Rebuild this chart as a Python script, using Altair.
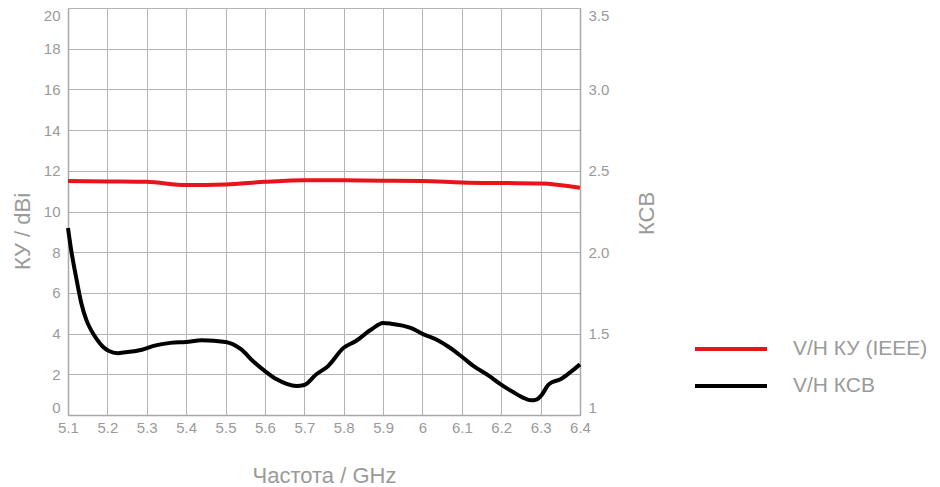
import altair as alt
import pandas as pd

# Gain (КУ, dBi) — left axis
gain_freq = [5.1, 5.2, 5.3, 5.4, 5.5, 5.6, 5.7, 5.8, 5.9, 6.0, 6.1, 6.2, 6.3, 6.4]
gain_vals = [11.5, 11.48, 11.46, 11.3, 11.33, 11.46, 11.54, 11.53, 11.51, 11.5, 11.43, 11.4, 11.38, 11.17]

# VSWR (КСВ) — right axis
vswr_freq = [5.1, 5.108, 5.117, 5.126, 5.134, 5.147, 5.159, 5.172, 5.188, 5.204, 5.226, 5.246,
             5.288, 5.32, 5.36, 5.4, 5.44, 5.5, 5.54, 5.57, 5.6, 5.63, 5.68, 5.7, 5.73, 5.76,
             5.8, 5.83, 5.87, 5.9, 5.92, 5.95, 5.97, 6.0, 6.04, 6.07, 6.1, 6.13, 6.17, 6.196,
             6.23, 6.255, 6.276, 6.289, 6.302, 6.319, 6.328, 6.349, 6.374, 6.4]
vswr_vals = [2.149, 2.014, 1.891, 1.778, 1.685, 1.581, 1.52, 1.469, 1.421, 1.393, 1.38, 1.385,
             1.401, 1.426, 1.443, 1.449, 1.459, 1.449, 1.403, 1.33, 1.27, 1.219, 1.178, 1.184, 1.249, 1.30,
             1.413, 1.453, 1.525, 1.565, 1.561, 1.549, 1.535, 1.498, 1.458, 1.413, 1.358, 1.30, 1.239, 1.193,
             1.141, 1.107, 1.09, 1.095, 1.121, 1.183, 1.2, 1.218, 1.26, 1.311]

series_names = ["V/H КУ (IEEE)", "V/H КСВ"]
series_colors = ["#e8141b", "#000000"]

x_ticks = [round(5.1 + 0.1 * i, 1) for i in range(14)]
left_ticks = list(range(0, 21, 2))
right_ticks = [1, 1.5, 2.0, 2.5, 3.0, 3.5]

gain_df = pd.DataFrame({"f": gain_freq, "v": gain_vals, "s": series_names[0]})
vswr_df = pd.DataFrame({"f": vswr_freq, "v": vswr_vals, "s": series_names[1]})

FONT = "Liberation Sans"
GREY = "#9a9a9a"
GRID = "#b4b4b4"

color = alt.Color(
    "s:N",
    scale=alt.Scale(domain=series_names, range=series_colors),
    legend=alt.Legend(
        title=None,
        orient="none",
        legendX=625,
        legendY=330,
        symbolType="M-1,0H7",
        symbolSize=324,
        symbolStrokeWidth=4,
        symbolFillColor="transparent",
        labelFont=FONT,
        labelFontSize=21,
        labelColor=GREY,
        labelOffset=78,
        rowPadding=16,
    ),
)

x_enc = alt.X(
    "f:Q",
    scale=alt.Scale(domain=[5.1, 6.4], nice=False, zero=False),
    axis=alt.Axis(
        values=x_ticks,
        format=".1~f",
        title="Частота / GHz",
        titleY=67,
        titleBaseline="alphabetic",
        labelPadding=5,
        labelFlush=False,
        labelOverlap=False,
    ),
)

gain_layer = alt.Chart(gain_df).mark_line(strokeWidth=4, interpolate="monotone").encode(
    x=x_enc,
    y=alt.Y(
        "v:Q",
        scale=alt.Scale(domain=[0, 20], nice=False),
        axis=alt.Axis(
            values=left_ticks,
            title="КУ / dBi",
            orient="left",
            titleX=-39,
            titleY=223,
            titleAngle=270,
            titleBaseline="alphabetic",
            labelPadding=8,
            labelFlush=False,
            labelBaseline={
                "condition": [
                    {"test": "datum.value == 20", "value": "top"},
                    {"test": "datum.value == 0", "value": "bottom"},
                ],
                "value": "middle",
            },
        ),
    ),
    color=color,
)

vswr_layer = alt.Chart(vswr_df).mark_line(strokeWidth=4, interpolate="monotone").encode(
    x=x_enc,
    y=alt.Y(
        "v:Q",
        scale=alt.Scale(domain=[1, 3.5], nice=False, zero=False),
        axis=alt.Axis(
            values=right_ticks,
            labelExpr="datum.value == 1 ? '1' : format(datum.value, '.1f')",
            title="КСВ",
            orient="right",
            grid=False,
            titleX=73,
            titleY=205,
            titleAngle=270,
            titleBaseline="alphabetic",
            labelPadding=8,
            labelFlush=False,
            labelBaseline={
                "condition": [
                    {"test": "datum.value == 3.5", "value": "top"},
                    {"test": "datum.value == 1", "value": "bottom"},
                ],
                "value": "middle",
            },
        ),
    ),
    color=color,
)

chart = (
    alt.layer(gain_layer, vswr_layer)
    .resolve_scale(y="independent")
    .properties(
        width=512,
        height=407,
        autosize=alt.AutoSizeParams(type="none"),
        padding={"left": 60, "top": 0, "right": 352, "bottom": 72},
    )
    .configure_view(stroke=None)
    .configure_axis(
        grid=True,
        gridColor=GRID,
        gridWidth=1,
        domainColor="#a8a8a8",
        domainWidth=1.5,
        ticks=False,
        labelFont=FONT,
        labelFontSize=15,
        labelColor=GREY,
        titleFont=FONT,
        titleFontSize=22,
        titleFontWeight="normal",
        titleColor=GREY,
    )
)

chart.save("out.html", embed_options={"renderer": "svg", "actions": False})
